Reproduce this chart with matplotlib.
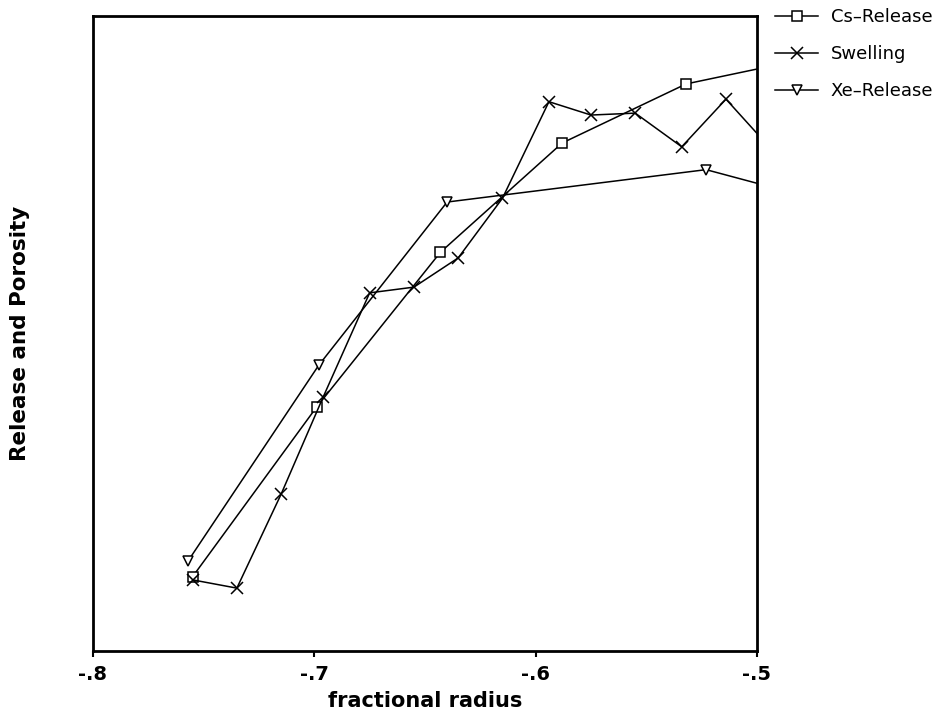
import matplotlib
matplotlib.use('Agg')
import matplotlib.pyplot as plt
from matplotlib.ticker import FuncFormatter

# data (y in arbitrary units, 0 = bottom, 1 = top)
cs_x = [-0.755, -0.699, -0.643, -0.588, -0.532, -0.476]
cs_y = [0.117, 0.384, 0.628, 0.800, 0.893, 0.934]

sw_x = [-0.755, -0.735, -0.715, -0.696, -0.675, -0.655, -0.635,
        -0.615, -0.594, -0.575, -0.555, -0.534, -0.514, -0.494]
sw_y = [0.112, 0.099, 0.247, 0.400, 0.564, 0.573, 0.619,
        0.713, 0.865, 0.844, 0.847, 0.794, 0.869, 0.792]

xe_x = [-0.757, -0.698, -0.640, -0.523, -0.463]
xe_y = [0.142, 0.450, 0.707, 0.758, 0.702]

x_ticks = [-0.8, -0.7, -0.6, -0.5]

fig = plt.figure(figsize=(9.48, 7.23), dpi=100)
ax = fig.add_axes([0.0981, 0.0996, 0.7004, 0.8783])

line_kw = dict(color='k', lw=1.1, mfc='white', mec='k', mew=1.1)
ax.plot(cs_x, cs_y, marker='s', ms=7, label='Cs\u2013Release', **line_kw)
ax.plot(sw_x, sw_y, marker='x', ms=9, label='Swelling', **line_kw)
ax.plot(xe_x, xe_y, marker='v', ms=7, label='Xe\u2013Release', **line_kw)

ax.set_xlim(-0.8, -0.5)
ax.set_ylim(0, 1)
ax.set_xticks(x_ticks)
ax.xaxis.set_major_formatter(FuncFormatter(lambda v, p: ('-' if v < 0 else '') + ('%.1f' % abs(v)).lstrip('0')))
ax.set_yticks([])
ax.tick_params(axis='x', direction='out', length=4, width=1.5, pad=6,
               labelsize=14)
for lab in ax.get_xticklabels():
    lab.set_fontweight('bold')
for s in ax.spines.values():
    s.set_linewidth(2)

ax.set_xlabel('fractional radius', fontsize=15, fontweight='bold', labelpad=5)
ax.set_ylabel('Release and Porosity', fontsize=15.5, fontweight='bold', labelpad=45)

fig.legend(loc='upper left', bbox_to_anchor=(0.8175, 0.9890), frameon=False,
           borderpad=0, fontsize=13, handlelength=2.4, handletextpad=0.7,
           labelspacing=1.05, borderaxespad=0)

fig.savefig('out.png', dpi=100)
